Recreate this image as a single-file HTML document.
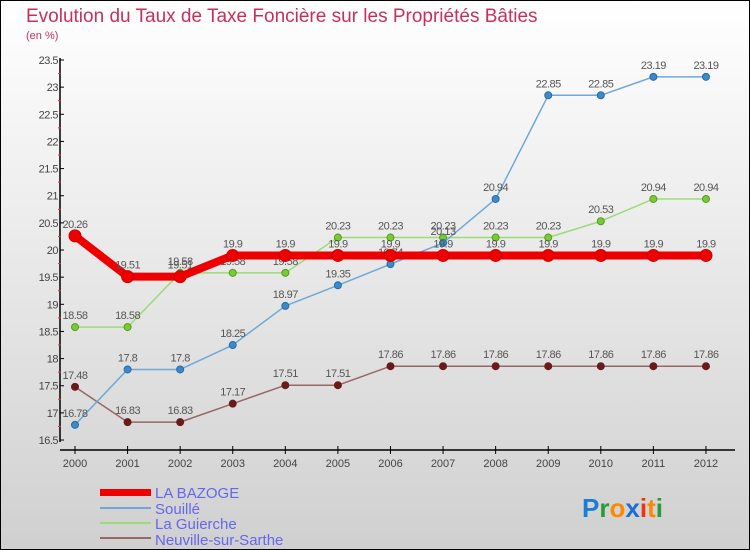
<!DOCTYPE html>
<html><head><meta charset="utf-8"><style>
body{margin:0}
#wrap{position:relative;width:748px;height:548px;border:1px solid #000;background:linear-gradient(#ffffff,#d0d0d0);font-family:"Liberation Sans",sans-serif;overflow:hidden}
</style></head><body>
<div id="wrap">
<svg id="chart" width="750" height="550" style="position:absolute;left:-1px;top:-1px">
<text x="26" y="22" font-size="19" fill="#c8305a">Evolution du Taux de Taxe Foncière sur les Propriétés Bâties</text>
<text x="26" y="39" font-size="11" fill="#c8305a">(en %)</text>
<g id="axes"></g><g id="series"></g>
<g>
<rect x="100" y="489" width="51" height="7" fill="#ee0000"/>
<text x="155" y="498" font-size="15" fill="#6666ee">LA BAZOGE</text>
<line x1="100" y1="508" x2="151" y2="508" stroke="#6fa8d8" stroke-width="2"/>
<text x="155" y="514" font-size="15" fill="#6666ee">Souillé</text>
<line x1="100" y1="523" x2="151" y2="523" stroke="#99dd77" stroke-width="2"/>
<text x="155" y="529" font-size="15" fill="#6666ee">La Guierche</text>
<line x1="100" y1="538" x2="151" y2="538" stroke="#996666" stroke-width="2"/>
<text x="155" y="545" font-size="15" fill="#6666ee">Neuville-sur-Sarthe</text>
</g>
<g font-size="26" font-weight="bold">
<text x="582" y="517"><tspan fill="#1a7fd4">P</tspan><tspan fill="#2a9a3a">r</tspan><tspan fill="#ff8800">o</tspan><tspan fill="#1a6fd4">x</tspan><tspan fill="#ee3311">i</tspan><tspan fill="#ff8800">t</tspan><tspan fill="#2a9a3a">i</tspan></text>
</g>
</svg>
</div>
<script>
const years=[2000,2001,2002,2003,2004,2005,2006,2007,2008,2009,2010,2011,2012];
const bazoge=[20.26,19.51,19.51,19.9,19.9,19.9,19.9,19.9,19.9,19.9,19.9,19.9,19.9];
const souille=[16.78,17.8,17.8,18.25,18.97,19.35,19.74,20.13,20.94,22.85,22.85,23.19,23.19];
const guierche=[18.58,18.58,19.58,19.58,19.58,20.23,20.23,20.23,20.23,20.23,20.53,20.94,20.94];
const neuville=[17.48,16.83,16.83,17.17,17.51,17.51,17.86,17.86,17.86,17.86,17.86,17.86,17.86];
const yTicks=[16.5,17,17.5,18,18.5,19,19.5,20,20.5,21,21.5,22,22.5,23,23.5];
const NS="http://www.w3.org/2000/svg";
function X(i){return 75+i*52.58;}
function Y(v){return 60+(23.5-v)*54.29;}
function mk(tag,attrs,parent){const e=document.createElementNS(NS,tag);for(const k in attrs)e.setAttribute(k,attrs[k]);parent.appendChild(e);return e;}
const ax=document.getElementById('axes');
let l=mk('line',{x1:60,y1:58,x2:60,y2:442,stroke:'#000','stroke-width':1.5},ax);


l=mk('line',{x1:60,y1:450,x2:735,y2:450,stroke:'#000','stroke-width':1.5},ax);


yTicks.forEach((v,i)=>{
  mk('line',{x1:60,y1:Y(v),x2:64,y2:Y(v),stroke:'#000'},ax);
  if(i<yTicks.length-1)mk('line',{x1:58,y1:Y(v+0.25),x2:61,y2:Y(v+0.25),stroke:'#e33'},ax);
  const t=mk('text',{x:58,y:Y(v)+4,'font-size':11,fill:'#444','text-anchor':'end','letter-spacing':'-0.5'},ax);
  t.textContent=String(v);
  
  
});
years.forEach((yr,i)=>{
  mk('line',{x1:X(i),y1:446,x2:X(i),y2:454,stroke:'#000'},ax);
  const t=mk('text',{x:X(i),y:467,'font-size':11,fill:'#444','text-anchor':'middle'},ax);
  t.textContent=yr;
  
  
});
const sg=document.getElementById('series');
function draw(name,vals,color,w,r,dot,dstroke){
  const g=mk('g',{},sg);
  
  
  mk('polyline',{points:vals.map((v,i)=>X(i)+','+Y(v)).join(' '),fill:'none',stroke:color,'stroke-width':w,'stroke-linejoin':'round'},g);
  vals.forEach((v,i)=>{
    const c=mk('circle',{cx:X(i),cy:Y(v),r:r,fill:dot,stroke:dstroke,'stroke-width':1},g);
    
    
    const t=mk('text',{x:X(i),y:Y(v)-8,'font-size':11,fill:'#555','text-anchor':'middle','letter-spacing':'-0.5'},g);
    t.textContent=String(v);
    
    
  });
}
draw('neuville',neuville,'#996666',1.5,3.5,'#6a1a1a','#6a1a1a');
draw('la-guierche',guierche,'#99dd77',1.5,3.5,'#77cc33','#559922');
draw('souille',souille,'#6fa8d8',1.5,3.5,'#3a8ad0','#2a6aa0');
draw('la-bazoge',bazoge,'#ee0000',8,6,'#ee0000','#cc0000');
</script>
</body></html>
